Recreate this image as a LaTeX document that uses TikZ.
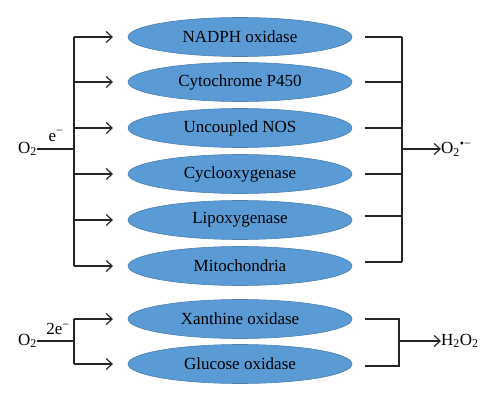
\documentclass[tikz,border=0pt]{standalone}
\usepackage{fontspec}
\setmainfont{Liberation Serif}
\usetikzlibrary{shapes.geometric,arrows.meta}
\definecolor{ellfill}{HTML}{5B9BD5}
\definecolor{elldraw}{HTML}{4A7FB0}
\definecolor{linec}{HTML}{262626}
\begin{document}
\begin{tikzpicture}[x=1pt,y=-1pt,
  enz/.style={ellipse,draw=elldraw,fill=ellfill,line width=0.6pt,minimum width=224pt,minimum height=39pt,inner sep=0pt,font=\fontsize{17}{19}\selectfont,text=black},
  lbl/.style={inner sep=0pt,font=\fontsize{17}{19}\selectfont},
  conn/.style={draw=linec,line width=1.2pt},
  arr/.style={conn,-{Straight Barb[length=6pt,width=11pt]}}]
\useasboundingbox (0,0) rectangle (500,403);
% ellipses
\node[enz] (e1) at (240,37) {NADPH oxidase};
\node[enz] (e2) at (240,82) {Cytochrome P450};
\node[enz] (e3) at (240,128) {Uncoupled NOS};
\node[enz] (e4) at (240,174) {Cyclooxygenase};
\node[enz] (e5) at (240,220) {Lipoxygenase};
\node[enz] (e6) at (240,266) {Mitochondria};
\node[enz] (x1) at (240,319) {Xanthine oxidase};
\node[enz] (x2) at (240,364) {Glucose oxidase};
% top left
\node[lbl,anchor=east] (o2a) at (37,149) {O\textsubscript{2}};
\node[lbl] (ea) at (56,136) {e\textsuperscript{−}};
\coordinate (ja) at (74,149);
\coordinate (ta) at (74,37);
\coordinate (ba) at (74,266);
\draw[conn] (o2a.east) -- (ja);
\draw[conn] (ta) -- (ba);
\foreach \n/\y in {e1/37,e2/82,e3/128,e4/174,e5/220,e6/266}{
  \coordinate (s\n) at (74,\y);
  \coordinate (t\n) at (113,\y);
  \draw[arr] (s\n) -- (t\n);
}
% top right
\foreach \n/\y in {e1/37,e2/82,e3/128,e4/174,e5/216,e6/262}{
  \coordinate (r\n) at (365,\y);
  \coordinate (q\n) at (402,\y);
  \draw[conn] (r\n) -- (q\n);
}
\draw[conn] (qe1) -- (qe6);
\node[lbl,anchor=west] (sup) at (441,149) {O\textsubscript{2}\textsuperscript{•−}};
\coordinate (jr) at (402,149);
\draw[arr] (jr) -- (sup.west);
% bottom left
\node[lbl,anchor=east] (o2b) at (37,341) {O\textsubscript{2}};
\node[lbl] (eb) at (58,329) {2e\textsuperscript{−}};
\coordinate (jb) at (74,341);
\draw[conn] (o2b.east) -- (jb);
\coordinate (sx1) at (74,319);
\coordinate (sx2) at (74,364);
\coordinate (tx1) at (113,319);
\coordinate (tx2) at (113,364);
\draw[conn] (sx1) -- (sx2);
\draw[arr] (sx1) -- (tx1);
\draw[arr] (sx2) -- (tx2);
% bottom right
\coordinate (rx1) at (365,319);
\coordinate (rx2) at (365,366);
\coordinate (qx1) at (399,319);
\coordinate (qx2) at (399,366);
\draw[conn] (rx1) -- (qx1) -- (qx2) -- (rx2);
\node[lbl,anchor=west] (h2o2) at (441,341) {H\textsubscript{2}O\textsubscript{2}};
\coordinate (jh) at (399,341);
\draw[arr] (jh) -- (h2o2.west);
\end{tikzpicture}
\end{document}
